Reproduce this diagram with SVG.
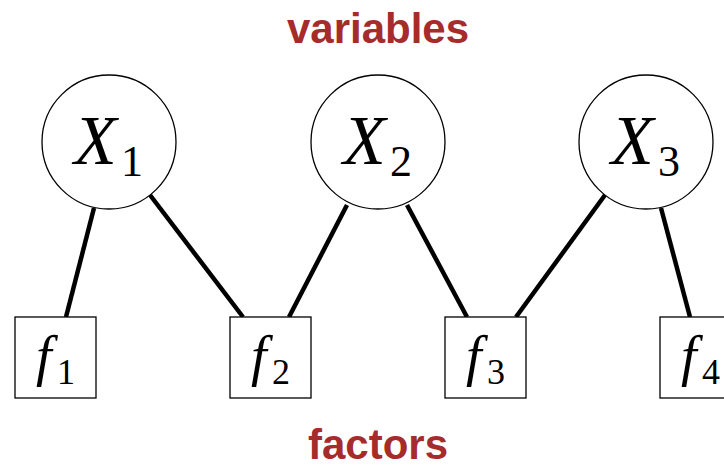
<svg xmlns="http://www.w3.org/2000/svg" width="724" height="467" viewBox="0 0 724 467">
<style>
.var{fill:#fff;stroke:#000;stroke-width:1.3}
.fac{fill:#fff;stroke:#000;stroke-width:1.3}
.edge{stroke:#000;stroke-width:4.5;stroke-linecap:butt}
.X{font-family:"Liberation Serif","DejaVu Serif",serif;font-style:italic;font-size:70px;fill:#000}
.f{font-family:"Liberation Serif","DejaVu Serif",serif;font-style:italic;font-size:56px;fill:#000}
.sx{font-family:"Liberation Serif","DejaVu Serif",serif;font-size:44px;fill:#000}
.sf{font-family:"Liberation Serif","DejaVu Serif",serif;font-size:36px;fill:#000}
.title{font-family:"Liberation Sans","DejaVu Sans",sans-serif;font-weight:bold;fill:#a62b2b;font-size:42px;text-anchor:middle}
</style>
<rect width="724" height="467" fill="#fff"/>
<g id="connectors">
<line class="edge" x1="94" y1="208" x2="66" y2="317"/>
<line class="edge" x1="150" y1="195" x2="243" y2="317"/>
<line class="edge" x1="347" y1="205" x2="289" y2="317"/>
<line class="edge" x1="407" y1="205" x2="467" y2="317"/>
<line class="edge" x1="605" y1="195" x2="516" y2="317"/>
<line class="edge" x1="661" y1="208" x2="690" y2="317"/>
</g>
<text class="title" x="378" y="43">variables</text>
<text class="title" x="378" y="459">factors</text>
<g id="X1">
<circle class="var" cx="109" cy="142" r="67"/>
<text class="X" x="74" y="164">X</text>
<text class="sx" x="121" y="176">1</text>
</g>
<g id="X2">
<circle class="var" cx="378" cy="142" r="67"/>
<text class="X" x="343" y="164">X</text>
<text class="sx" x="390" y="176">2</text>
</g>
<g id="X3">
<circle class="var" cx="646" cy="142" r="67"/>
<text class="X" x="611" y="164">X</text>
<text class="sx" x="658" y="176">3</text>
</g>
<g id="f1">
<rect class="fac" x="15" y="317" width="81" height="81"/>
<text class="f" x="36" y="375">f</text>
<text class="sf" x="57" y="384">1</text>
</g>
<g id="f2">
<rect class="fac" x="230" y="317" width="81" height="81"/>
<text class="f" x="251" y="375">f</text>
<text class="sf" x="272" y="384">2</text>
</g>
<g id="f3">
<rect class="fac" x="445" y="317" width="81" height="81"/>
<text class="f" x="466" y="375">f</text>
<text class="sf" x="487" y="384">3</text>
</g>
<g id="f4">
<rect class="fac" x="660" y="317" width="81" height="81"/>
<text class="f" x="681" y="375">f</text>
<text class="sf" x="702" y="384">4</text>
</g>
</svg>
